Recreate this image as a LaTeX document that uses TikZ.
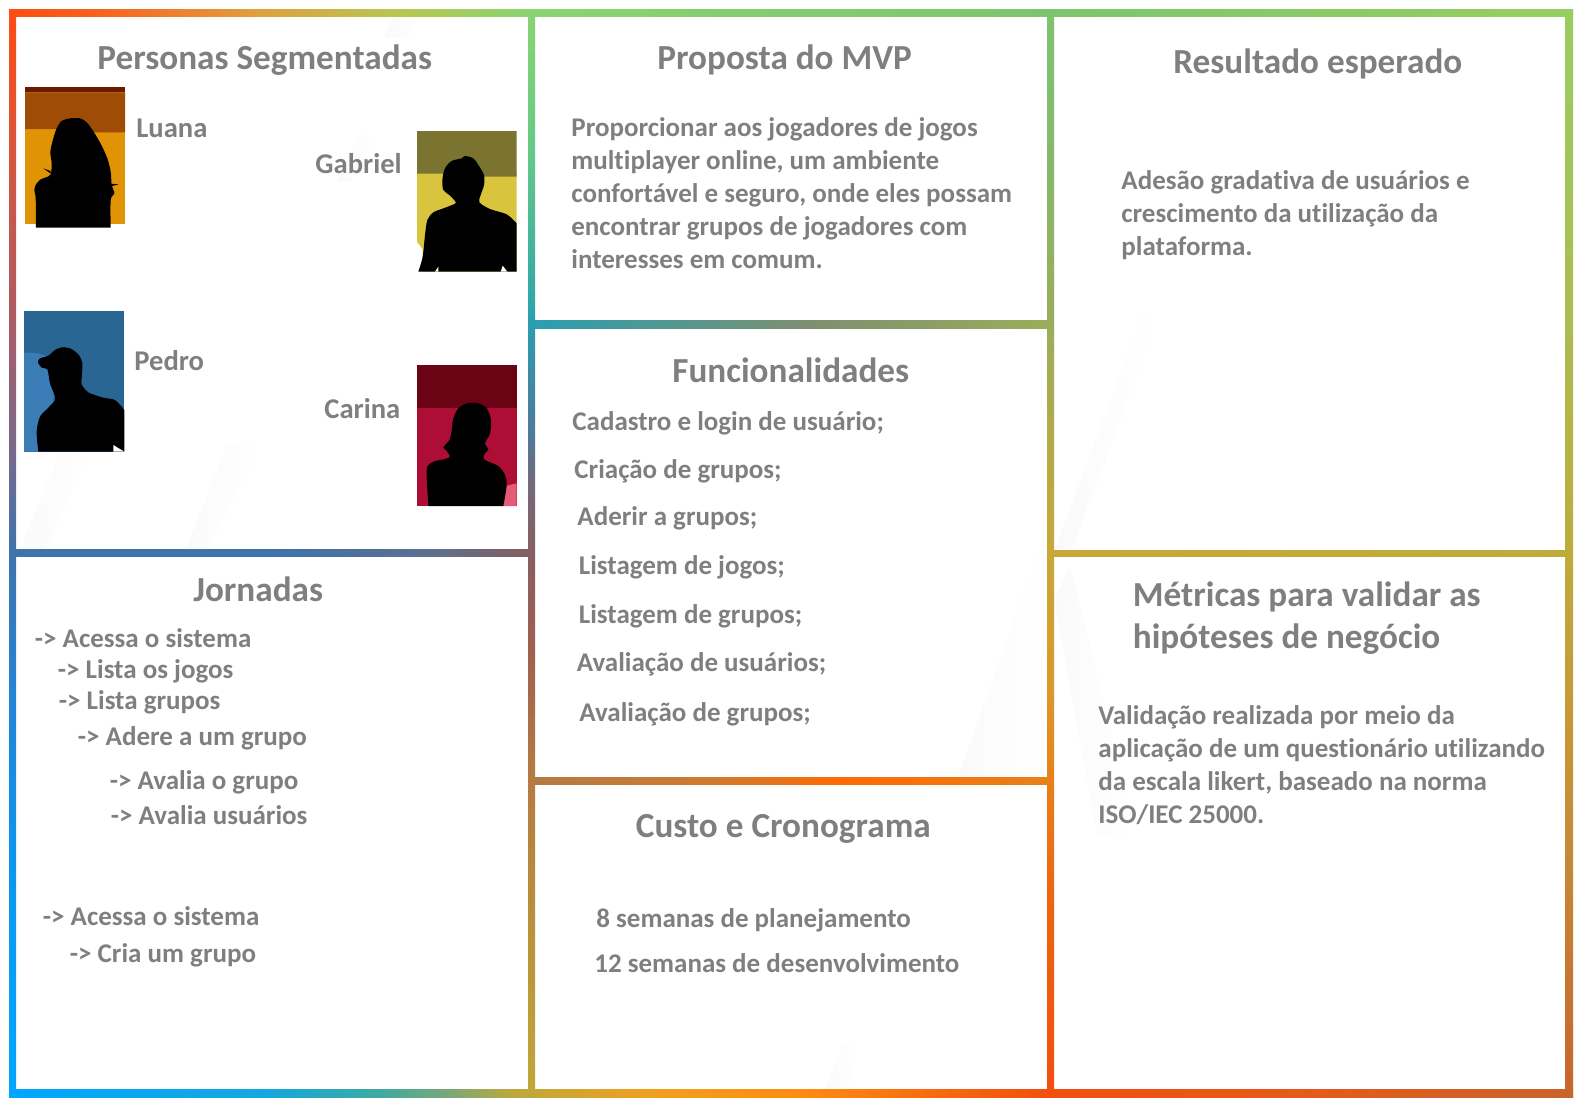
\documentclass[tikz,border=0pt]{standalone}
\usepackage{fontspec}
\setmainfont[Ligatures=NoCommon]{Carlito}
\definecolor{textgray}{HTML}{7F7F7F}
\definecolor{ghostgray}{HTML}{FAFAFA}
\definecolor{tl}{HTML}{FF4C12}
\definecolor{bl}{HTML}{00A6FF}
\definecolor{tr}{HTML}{98CE60}
\definecolor{br}{HTML}{C8642C}
\definecolor{ta}{HTML}{8AD471}
\definecolor{tb}{HTML}{7CC56F}
\definecolor{ba}{HTML}{BFA83A}
\definecolor{bb}{HTML}{F24E0E}
\definecolor{la}{HTML}{3F73AC}
\definecolor{lb}{HTML}{865F62}
\definecolor{ma}{HTML}{2A9EB0}
\definecolor{mb}{HTML}{9AAD5A}
\definecolor{mc}{HTML}{B47A44}
\definecolor{md}{HTML}{E8801A}
\definecolor{ra}{HTML}{C7A838}
\definecolor{rb}{HTML}{BDAC3C}
\definecolor{c1}{HTML}{0D95EE}\definecolor{c2}{HTML}{2285D8}\definecolor{c3}{HTML}{786A8C}
\definecolor{c4}{HTML}{B25A5F}\definecolor{c5}{HTML}{C9584A}\definecolor{c6}{HTML}{C68A38}
\definecolor{c7}{HTML}{C69A38}\definecolor{c8}{HTML}{ABBD53}\definecolor{c9}{HTML}{B78F3C}
\definecolor{d1}{HTML}{9F6050}\definecolor{d2}{HTML}{776878}\definecolor{d3}{HTML}{4F7A98}
\definecolor{d4}{HTML}{33A8A8}\definecolor{d5}{HTML}{65C987}\definecolor{d6}{HTML}{EE6410}
\definecolor{d7}{HTML}{DC9628}\definecolor{d8}{HTML}{85B86A}\definecolor{d9}{HTML}{F9601B}
\definecolor{e1}{HTML}{DFA040}\definecolor{e2}{HTML}{B5C850}\definecolor{e3}{HTML}{14A8DC}
\definecolor{e4}{HTML}{40AAA0}\definecolor{e5}{HTML}{78A878}\definecolor{e6}{HTML}{F0A020}
\definecolor{e7}{HTML}{FF8C10}\definecolor{e8}{HTML}{E65A1A}\definecolor{e9}{HTML}{5A7090}
\definecolor{f1}{HTML}{7E8F70}\definecolor{f2}{HTML}{D07A30}\definecolor{f3}{HTML}{FF6A00}
% picture colours
\definecolor{luanaa}{HTML}{E09305}\definecolor{luanab}{HTML}{9E4C06}\definecolor{luanac}{HTML}{6B1A00}
\definecolor{gabriela}{HTML}{D8C53D}\definecolor{gabrielb}{HTML}{7B7430}
\definecolor{pedroa}{HTML}{2A6694}\definecolor{pedrob}{HTML}{3A7CB5}
\definecolor{carinaa}{HTML}{AE0E36}\definecolor{carinab}{HTML}{6B0314}\definecolor{carinac}{HTML}{E55A78}
% bars of the frame: the stops that show run from 25bp to 75bp
\pgfdeclareverticalshading{leftbar}{100bp}{color(0bp)=(bl); color(25bp)=(bl); color(36.4bp)=(c1);
  color(43.2bp)=(c2); color(50.1bp)=(la); color(54.7bp)=(c3); color(61.6bp)=(c4); color(66.2bp)=(c5);
  color(75bp)=(tl); color(100bp)=(tl)}
\pgfdeclareverticalshading{rightbar}{100bp}{color(0bp)=(br); color(25bp)=(br); color(36.4bp)=(c6);
  color(43.2bp)=(c7); color(50.1bp)=(rb); color(61.6bp)=(c8); color(75bp)=(tr); color(100bp)=(tr)}
\pgfdeclareverticalshading{firstdiv}{100bp}{color(0bp)=(ba); color(25bp)=(ba); color(34bp)=(c9);
  color(40bp)=(mc); color(45.5bp)=(d1); color(50.1bp)=(lb); color(53bp)=(d2); color(55.5bp)=(d3);
  color(60.7bp)=(ma); color(61.6bp)=(d4); color(68.5bp)=(d5); color(75bp)=(ta); color(100bp)=(ta)}
\pgfdeclareverticalshading{seconddiv}{100bp}{color(0bp)=(bb); color(25bp)=(bb); color(34bp)=(d6);
  color(39.6bp)=(md); color(43.2bp)=(d7); color(50.1bp)=(ra); color(60.7bp)=(mb); color(68bp)=(d8);
  color(75bp)=(tb); color(100bp)=(tb)}
\pgfdeclarehorizontalshading{topbar}{100bp}{color(0bp)=(tl); color(25bp)=(tl); color(27.6bp)=(d9);
  color(33bp)=(e1); color(37.5bp)=(e2); color(41.6bp)=(ta); color(58.2bp)=(tb); color(75bp)=(tr);
  color(100bp)=(tr)}
\pgfdeclarehorizontalshading{bottombar}{100bp}{color(0bp)=(bl); color(25bp)=(bl); color(33.3bp)=(e3);
  color(36.9bp)=(e4); color(39bp)=(e5); color(41.2bp)=(ba); color(45.5bp)=(e6); color(50.3bp)=(e7);
  color(58.2bp)=(bb); color(66.3bp)=(e8); color(75bp)=(br); color(100bp)=(br)}
\pgfdeclarehorizontalshading{leftcross}{100bp}{color(0bp)=(la); color(50bp)=(la); color(65bp)=(e9);
  color(75bp)=(lb); color(100bp)=(lb)}
\pgfdeclarehorizontalshading{midcrossa}{100bp}{color(0bp)=(ma); color(25bp)=(ma); color(52bp)=(f1);
  color(75bp)=(mb); color(100bp)=(mb)}
\pgfdeclarehorizontalshading{midcrossb}{100bp}{color(0bp)=(mc); color(25bp)=(mc); color(42bp)=(f2);
  color(55bp)=(f3); color(75bp)=(md); color(100bp)=(md)}
\pgfdeclarehorizontalshading{rightcross}{100bp}{color(0bp)=(ra); color(25bp)=(ra); color(75bp)=(rb);
  color(100bp)=(rb)}
\tikzset{
  heading/.style={anchor=base west,inner sep=0pt,text=textgray,font=\fontsize{17.6}{20}\selectfont\bfseries},
  body/.style={anchor=base west,inner sep=0pt,text=textgray,font=\fontsize{13.5}{16}\selectfont\bfseries},
  person/.style={body,font=\fontsize{14.3}{16}\selectfont\bfseries},
  ghost/.style={left color=ghostgray,right color=white},
  silhouette/.style={fill=black},
  portrait/.style={shift={#1},x=0.1667pt,y=-0.1667pt}
}
\begin{document}
\begin{tikzpicture}[x=0.5pt,y=-0.5pt]
\useasboundingbox (0,0) rectangle (1584,1110);

% faint marks behind the panels
\shade[ghost] (396,9) -- (424,9) -- (408,38) -- (384,38) -- cycle;
\shade[ghost] (60,453) -- (90,453) -- (45,549) -- (20,549) -- cycle;
\shade[ghost] (227,445) -- (262,445) -- (207,549) -- (186,549) -- cycle;
\shade[ghost] (358,135) -- (379,135) -- (350,182) -- (337,182) -- cycle;
\shade[ghost] (1055,549) -- (1154,283) -- (1155,330) -- (1072,549) -- cycle;
\shade[ghost] (1054,600) -- (1070,566) -- (1136,835) -- (1097,835) -- cycle;
\shade[ghost] (958,777) -- (1047,528) -- (1047,777) -- cycle;
\shade[ghost] (843,1045) -- (860,1045) -- (848,1089) -- (825,1089) -- cycle;

% frame
\shade[shading=topbar] (9,9) rectangle (1573,16);
\shade[shading=bottombar] (9,1089) rectangle (1573,1097);
\shade[shading=leftbar] (9,9) rectangle (16,1097);
\shade[shading=rightbar] (1565,9) rectangle (1573,1097);
\shade[shading=firstdiv] (528,9) rectangle (535,1097);
\shade[shading=seconddiv] (1047,9) rectangle (1054,1097);
\shade[shading=leftcross] (16,549) rectangle (528,556);
\shade[shading=midcrossa] (535,320) rectangle (1047,328);
\shade[shading=midcrossb] (535,777) rectangle (1047,784);
\shade[shading=rightcross] (1054,550) rectangle (1565,556);

% Luana
\begin{scope}[portrait={(20,85)}]
\fill[luanaa] (15,5) rectangle (315,418);
\fill[luanab] (15,22) -- (315,22) -- (315,142) -- (228,142) -- (105,132) -- (15,132) -- cycle;
\fill[luanac] (15,5) rectangle (315,22);
\fill[silhouette] plot[smooth,tension=.5] coordinates {(48,428) (47,340) (43,315) (48,298) (62,283) (78,277) (92,268)
  (95,235) (91,200) (100,160) (110,130) (125,108) (150,100) (180,100) (200,112) (222,142) (243,178) (262,220)
  (272,260) (275,300) (283,325) (272,345) (272,428)} -- cycle;
\fill[silhouette] (70,250) -- (92,258) -- (92,266) -- cycle;
\fill[silhouette] (272,296) -- (296,298) -- (272,304) -- cycle;
\end{scope}

% Gabriel
\begin{scope}[portrait={(410,125)}]
\fill[gabriela] (21,140) -- (320,140) -- (320,440) -- (38,440) -- (38,372) -- (21,350) -- cycle;
\fill[gabrielb] (21,18) -- (320,18) -- (320,155) -- (225,155) -- (95,146) -- (21,146) -- cycle;
\fill[silhouette] plot[smooth,tension=.5] coordinates {(25,440) (38,395) (45,330) (52,285) (70,262) (100,250) (135,236)
  (135,228) (118,210) (100,195) (97,165) (105,130) (125,108) (155,100) (165,93) (190,100) (205,120) (222,150)
  (222,180) (212,210) (208,232) (240,252) (290,268) (320,295)} -- (320,440) -- cycle;
\fill[white] (75,440) -- (85,425) -- (85,440) -- cycle;
\fill[white] (272,440) -- (278,422) -- (292,440) -- cycle;
\end{scope}

% Pedro
\begin{scope}[portrait={(20,305)}]
\fill[pedroa] (12,18) rectangle (313,440);
\fill[pedrob] plot[smooth,tension=.5] coordinates {(12,143) (50,145) (85,165) (100,290) (70,440)} -- (12,440) -- cycle;
\fill[silhouette] plot[smooth,tension=.5] coordinates {(55,440) (50,380) (60,335) (85,308) (105,285) (103,268) (90,235)
  (82,193) (65,188) (54,172) (60,160) (85,152) (105,135) (125,127) (150,130) (175,148) (187,175) (185,220) (185,238)
  (205,262) (250,278) (285,285) (313,315)} -- (313,440) -- cycle;
\fill[white] (280,440) -- (280,420) -- (313,440) -- cycle;
\end{scope}

% Carina
\begin{scope}[portrait={(410,360)}]
\fill[carinaa] (21,15) rectangle (320,438);
\fill[carinab] (21,15) rectangle (320,145);
\fill[carinac] (285,378) -- (320,370) -- (320,438) -- (275,438) -- cycle;
\fill[silhouette] plot[smooth,tension=.5] coordinates {(55,438) (50,350) (52,320) (70,305) (118,292) (108,270) (100,262)
  (118,240) (125,210) (130,175) (145,145) (170,130) (205,130) (230,145) (243,180) (240,220) (225,250) (235,268)
  (225,280) (222,298) (265,318) (285,345) (290,375) (280,438)} -- cycle;
\end{scope}

% Personas Segmentadas
\node[heading] (personas) at (97,69) {Personas Segmentadas};
\node[person] (luana) at (136,137.5) {Luana};
\node[person] (gabriel) at (315,173.5) {Gabriel};
\node[person] (pedro) at (134,370.5) {Pedro};
\node[person] (carina) at (324,418) {Carina};

% Jornadas
\node[heading] (jornadas) at (193,601) {Jornadas};
\node[body] (ja) at (34.5,647.5) {-> Acessa o sistema};
\node[body] (jb) at (57.5,678.5) {-> Lista os jogos};
\node[body] (jc) at (58.5,709.5) {-> Lista grupos};
\node[body] (jd) at (77.5,745.5) {-> Adere a um grupo};
\node[body] (je) at (109.5,789.5) {-> Avalia o grupo};
\node[body] (jf) at (110.5,824) {-> Avalia usuários};
\node[body] (jg) at (42.5,925.5) {-> Acessa o sistema};
\node[body] (jh) at (69.5,962) {-> Cria um grupo};

% Proposta do MVP
\node[heading] (proposta) at (657,69) {Proposta do MVP};
\node[body] (pa) at (571,136.5) {Proporcionar aos jogadores de jogos};
\node[body] (pb) at (571,169.5) {multiplayer online, um ambiente};
\node[body] (pc) at (571,202.5) {confortável e seguro, onde eles possam};
\node[body] (pd) at (571,235.5) {encontrar grupos de jogadores com};
\node[body] (pe) at (571,268) {interesses em comum.};

% Funcionalidades
\node[heading] (funcionalidades) at (672,382) {Funcionalidades};
\node[body] (fa) at (572,430) {Cadastro e login de usuário;};
\node[body] (fb) at (574,478) {Criação de grupos;};
\node[body] (fc) at (577,525) {Aderir a grupos;};
\node[body] (fd) at (578.5,574) {Listagem de jogos;};
\node[body] (fe) at (578.5,623) {Listagem de grupos;};
\node[body] (ff) at (576.5,671) {Avaliação de usuários;};
\node[body] (fg) at (579,721) {Avaliação de grupos;};

% Custo e Cronograma
\node[heading] (custo) at (635.5,837.5) {Custo e Cronograma};
\node[body] (ca) at (596,927) {8 semanas de planejamento};
\node[body] (cb) at (594,972) {12 semanas de desenvolvimento};

% Resultado esperado
\node[heading] (resultado) at (1173,73.5) {Resultado esperado};
\node[body] (ra) at (1121,189.5) {Adesão gradativa de usuários e};
\node[body] (rb) at (1121,222) {crescimento da utilização da};
\node[body] (rc) at (1121,255) {plataforma.};

% Métricas
\node[heading] (metricas) at (1132.5,606.5) {Métricas para validar as};
\node[heading] (hipoteses) at (1132.5,648.5) {hipóteses de negócio};
\node[body] (ma) at (1098,724.5) {Validação realizada por meio da};
\node[body] (mb) at (1098,757.5) {aplicação de um questionário utilizando};
\node[body] (mc) at (1098,790.5) {da escala likert, baseado na norma};
\node[body] (md) at (1098,823) {ISO/IEC 25000.};
\end{tikzpicture}
\end{document}
